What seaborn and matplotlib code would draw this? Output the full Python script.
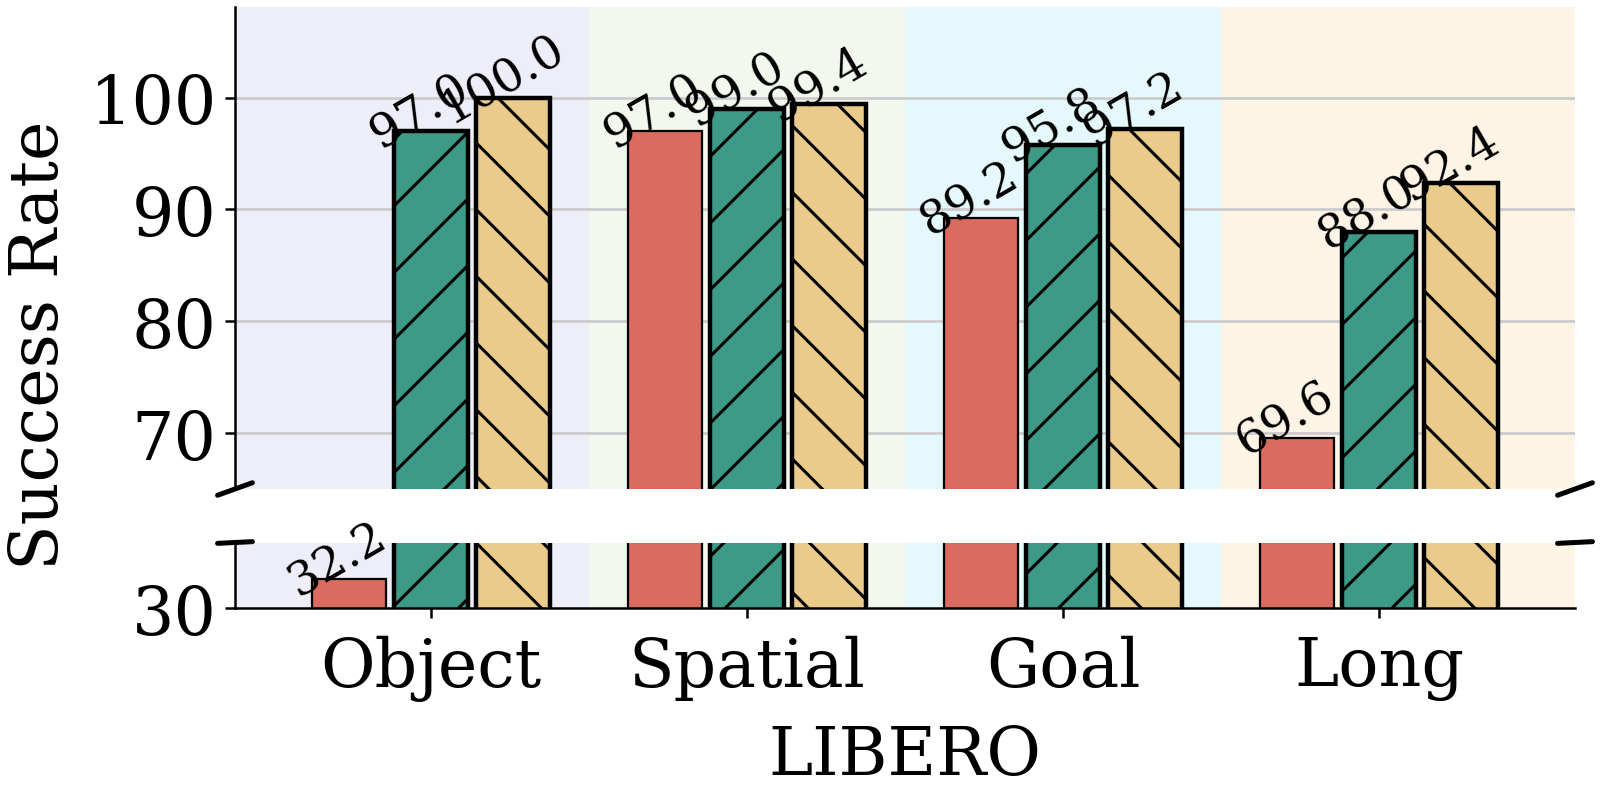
import numpy as np
import pandas as pd
import matplotlib
matplotlib.use("Agg")
import matplotlib.pyplot as plt
import seaborn as sns

# data
suites = ["Object", "Spatial", "Goal", "Long"]
methods = ["Method A", "Method B", "Method C"]
method_a = [32.2, 97.0, 89.2, 69.6]
method_b = [97.0, 99.0, 95.8, 88.0]
method_c = [100.0, 99.4, 97.2, 92.4]
top_ticks = [70, 80, 90, 100]
bottom_ticks = [30]

COLORS = ["#DA6B5F", "#3D9A86", "#EBCB8B"]
HATCHES = ["", "//", "\\\\"]
EDGE_LW = [0.4, 0.8, 0.8]
SPAN_COLORS = ["#EEEEF8", "#F3F8EE", "#E5F8FB", "#FDF4E6"]

sns.set_theme(style="ticks")
plt.rcParams["font.family"] = ["DejaVu Serif"]
plt.rcParams["hatch.linewidth"] = 0.55
plt.rcParams["axes.linewidth"] = 0.45
for key in ["text.color", "axes.labelcolor", "xtick.color", "ytick.color",
            "axes.edgecolor"]:
    plt.rcParams[key] = "black"

df = pd.DataFrame({
    "suite": suites * 3,
    "method": [m for m in methods for _ in suites],
    "success": method_a + method_b + method_c,
})

W, H, DPI = 1601, 803, 400
fig = plt.figure(figsize=(W / DPI, H / DPI), dpi=DPI)
ax_top = fig.add_axes([235 / W, 1 - 490 / H, 1340 / W, 482 / H])
ax_bot = fig.add_axes([235 / W, 1 - 609 / H, 1340 / W, 65.5 / H])

xlim = (-0.62, 3.62)
edges = [xlim[0], 0.5, 1.5, 2.5, xlim[1]]

for ax in (ax_top, ax_bot):
    sns.barplot(data=df, x="suite", y="success", hue="method", order=suites,
                hue_order=methods, palette=COLORS, saturation=1, width=0.78,
                gap=0.1, edgecolor="black", errorbar=None, legend=False, ax=ax)
    for cont, hatch, lw in zip(ax.containers, HATCHES, EDGE_LW):
        for bar in cont:
            bar.set_hatch(hatch)
            bar.set_linewidth(lw)
            bar.set_zorder(2)
    for i in range(len(suites)):
        ax.axvspan(edges[i], edges[i + 1], color=SPAN_COLORS[i], lw=0, zorder=0)
    ax.set_xlim(*xlim)
    ax.set_xlabel("")
    ax.set_ylabel("")
    ax.spines["right"].set_visible(False)
    ax.tick_params(axis="both", direction="out", length=1.8, width=0.45,
                   labelsize=12, colors="black")
    ax.tick_params(axis="y", pad=1.5)

ax_top.set_ylim(65, 108.1)
ax_bot.set_ylim(30, 35)
ax_top.set_yticks(top_ticks)
ax_bot.set_yticks(bottom_ticks)
ax_top.yaxis.grid(True, color="#cccccc", lw=0.5)
ax_top.set_axisbelow(True)
ax_top.spines["top"].set_visible(False)
ax_top.spines["bottom"].set_visible(False)
ax_bot.spines["top"].set_visible(False)
ax_top.tick_params(axis="x", bottom=False, labelbottom=False)
ax_bot.tick_params(axis="x", pad=3)
ax_bot.set_xlabel("LIBERO", fontsize=12)

# value labels, on whichever panel shows the bar top
for ax, low, high in ((ax_top, 65, 108.1), (ax_bot, 30, 35)):
    for cont in ax.containers:
        for bar in cont:
            h = bar.get_height()
            if low <= h <= high:
                ax.text(bar.get_x() + bar.get_width() / 2, h, f"{h:.1f}",
                        rotation=30, rotation_mode="anchor", ha="center",
                        va="bottom", fontsize=8.5, zorder=5, clip_on=False)

# broken-axis marks
d = 0.013
kw = dict(color="black", lw=0.9, clip_on=False)
ax_top.plot((-d, d), (-d, d), transform=ax_top.transAxes, **kw)
ax_top.plot((1 - d, 1 + d), (-d, d), transform=ax_top.transAxes, **kw)
ax_bot.plot((-d, d), (1 - d, 1 + d), transform=ax_bot.transAxes, **kw)
ax_bot.plot((1 - d, 1 + d), (1 - d, 1 + d), transform=ax_bot.transAxes, **kw)

fig.text(39 / W, 1 - 345 / H, "Success Rate", rotation=90, ha="center",
         va="center", fontsize=12)

fig.savefig("out.png", dpi=DPI)
